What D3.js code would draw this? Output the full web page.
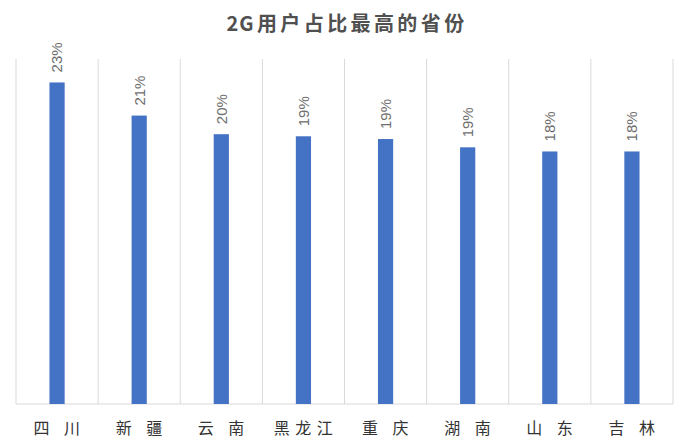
<!DOCTYPE html>
<html>
<head>
<meta charset="utf-8">
<script src="https://cdn.jsdelivr.net/npm/d3@7/dist/d3.min.js"></script>
<style>
  html, body { margin: 0; padding: 0; background: #fff; }
  svg { display: block; }
</style>
</head>
<body>
<svg id="chart" width="685" height="447"></svg>
<script>
const title = "2G用户占比最高的省份";
const categories = ["四 川", "新 疆", "云 南", "黑龙江", "重 庆", "湖 南", "山 东", "吉 林"];
const values = [0.2330, 0.2090, 0.1955, 0.1940, 0.1920, 0.1860, 0.1830, 0.1830];
const yDomain = [0, 0.25];

(function () {
const svg = d3.select("#chart");
const plotL = 16, plotR = 673, plotT = 59, plotB = 404;

const x = d3.scaleBand().domain(categories).range([plotL, plotR]).padding(0);
const y = d3.scaleLinear().domain(yDomain).range([plotB, plotT]);
const barW = x.bandwidth() * 0.185;

// vertical gridlines at category boundaries
const bounds = categories.map(c => x(c)).concat([plotR]);
svg.append("g").selectAll("line").data(bounds).join("line")
  .attr("x1", d => d).attr("x2", d => d)
  .attr("y1", plotT).attr("y2", plotB)
  .attr("stroke", "#d9d9d9").attr("stroke-width", 1);

// baseline
svg.append("line")
  .attr("x1", plotL).attr("x2", plotR)
  .attr("y1", plotB).attr("y2", plotB)
  .attr("stroke", "#d9d9d9").attr("stroke-width", 1);

// bars
svg.append("g").selectAll("rect").data(values).join("rect")
  .attr("x", (d, i) => x(categories[i]) + x.bandwidth() / 2 - barW / 2)
  .attr("y", d => y(d))
  .attr("width", barW)
  .attr("height", d => y(0) - y(d))
  .attr("fill", "#4472c4");

// data labels
svg.append("g").selectAll("text").data(values).join("text")
  .attr("transform", (d, i) => `translate(${x(categories[i]) + x.bandwidth() / 2},${y(d) - 10}) rotate(-90)`)
  .attr("dy", "0.36em")
  .attr("text-anchor", "start")
  .attr("font-family", "'Liberation Sans', Arial, sans-serif")
  .attr("font-size", 15)
  .attr("fill", "#6e6e6e")
  .text(d => Math.round(d * 100) + "%");

// category axis labels
svg.append("g").selectAll("text").data(categories).join("text")
  .attr("x", d => x(d) + x.bandwidth() / 2 + 2.5)
  .attr("y", 434)
  .attr("text-anchor", "middle")
  .attr("font-family", "'Noto Sans CJK SC', sans-serif")
  .attr("font-size", 16)
  .attr("letter-spacing", "5.5px")
  .attr("fill", "#333333")
  .text(d => d);

// title
const t = svg.append("text")
  .attr("x", 347).attr("y", 31)
  .attr("text-anchor", "middle")
  .attr("font-family", "'Noto Sans CJK SC', sans-serif")
  .attr("font-size", 20)
  .attr("font-weight", "bold")
  .attr("fill", "#505050");
t.append("tspan").attr("letter-spacing", "1px").text(title.slice(0, 1));
t.append("tspan").attr("letter-spacing", "3.4px").text(title.slice(1));
})();
</script>
</body>
</html>
